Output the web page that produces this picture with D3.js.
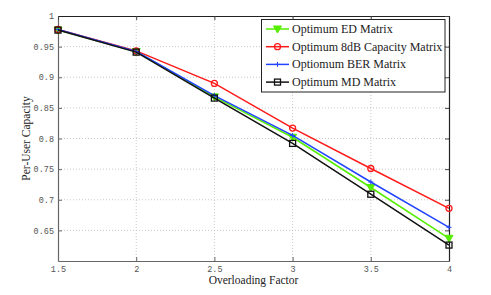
<!DOCTYPE html>
<html><head><meta charset="utf-8">
<script src="https://cdn.jsdelivr.net/npm/d3@7"></script>
<style>
body{margin:0;background:#fff}
.serif{font-family:"Liberation Serif","Times New Roman",serif}
.mono{font-family:"Liberation Mono","Courier New",monospace}
</style>
</head><body>
<script>
const xValues = [1.5, 2, 2.5, 3, 3.5, 4];
const seriesNames = ["Optimum ED Matrix", "Optimum 8dB Capacity Matrix", "Optiomum BER Matrix", "Optimum MD Matrix"];
const edValues = [0.977, 0.942, 0.868, 0.802, 0.720, 0.637];
const capValues = [0.978, 0.943, 0.890, 0.817, 0.751, 0.686];
const berValues = [0.978, 0.942, 0.870, 0.805, 0.729, 0.655];
const mdValues = [0.977, 0.941, 0.866, 0.792, 0.709, 0.626];
const xTicks = [1.5, 2, 2.5, 3, 3.5, 4];
const yTicks = [0.65, 0.7, 0.75, 0.8, 0.85, 0.9, 0.95, 1];
const colors = ["#55ee00", "#ff1a1a", "#2244ff", "#111111"];
const markers = ["tri", "circle", "plus", "square"];

const W = 491, H = 295;
const m = {l: 58, r: 42, t: 16, b: 34};
const svg = d3.select("body").append("svg").attr("width", W).attr("height", H);
const x = d3.scaleLinear().domain([1.5, 4]).range([m.l, W - m.r]);
const y = d3.scaleLinear().domain([0.6, 1]).range([H - m.b, m.t]);
const x0 = x.range()[0], x1 = x.range()[1], y0 = y.range()[0], y1 = y.range()[1];

// grid
const g = svg.append("g");
g.selectAll(".gx").data(xTicks.slice(1, -1)).join("line")
  .attr("x1", d => x(d)).attr("x2", d => x(d)).attr("y1", y0).attr("y2", y1)
  .attr("stroke", "#bbb").attr("stroke-width", 0.8).attr("stroke-dasharray", "1,2");
g.selectAll(".gy").data(yTicks.slice(0, -1)).join("line")
  .attr("x1", x0).attr("x2", x1).attr("y1", d => y(d)).attr("y2", d => y(d))
  .attr("stroke", "#bbb").attr("stroke-width", 0.8).attr("stroke-dasharray", "1,2");

// axes with inward ticks
const fmt = d => String(d);
const bx = svg.append("g").attr("transform", `translate(0,${y0})`)
  .call(d3.axisBottom(x).tickValues(xTicks).tickFormat(fmt).tickSizeInner(-4).tickSizeOuter(0).tickPadding(4.5));
const ly = svg.append("g").attr("transform", `translate(${x0},0)`)
  .call(d3.axisLeft(y).tickValues(yTicks).tickFormat(fmt).tickSizeInner(-4).tickSizeOuter(0).tickPadding(4));
const tx = svg.append("g").attr("transform", `translate(0,${y1})`)
  .call(d3.axisTop(x).tickValues(xTicks).tickFormat("").tickSizeInner(-4).tickSizeOuter(0));
const ry = svg.append("g").attr("transform", `translate(${x1},0)`)
  .call(d3.axisRight(y).tickValues(yTicks).tickFormat("").tickSizeInner(-4).tickSizeOuter(0));
[bx, ly].forEach(a => {
  a.attr("font-family", null);
  a.select(".domain").attr("stroke", "#666").attr("stroke-width", 1.2);
  a.selectAll(".tick line").attr("stroke", "#666");
  a.selectAll("text").attr("class", "mono").attr("font-size", 8.5).attr("fill", "#555");
});
[tx, ry].forEach(a => {
  a.select(".domain").attr("stroke", "#222").attr("stroke-width", 1.2);
  a.selectAll(".tick line").attr("stroke", "#444");
});

// series
const allSeries = [edValues, capValues, berValues, mdValues];
const line = d3.line().x((d, i) => x(xValues[i])).y(d => y(d));
function drawMarker(sel, type, color, px, py) {
  if (type === "tri") {
    sel.append("path").attr("d", `M${px-4},${py-3} L${px+4},${py-3} L${px},${py+4} Z`)
      .attr("fill", color).attr("stroke", color).attr("stroke-width", 1);
  } else if (type === "circle") {
    sel.append("circle").attr("cx", px).attr("cy", py).attr("r", 3)
      .attr("fill", "none").attr("stroke", color).attr("stroke-width", 1.3);
  } else if (type === "plus") {
    sel.append("path").attr("d", `M${px-2.5},${py} H${px+2.5} M${px},${py-2.5} V${py+2.5}`)
      .attr("stroke", color).attr("stroke-width", 1);
  } else {
    sel.append("rect").attr("x", px - 3).attr("y", py - 3).attr("width", 6).attr("height", 6)
      .attr("fill", "none").attr("stroke", color).attr("stroke-width", 1.3);
  }
}
allSeries.forEach((vals, si) => {
  const gs = svg.append("g");
  gs.append("path").datum(vals).attr("d", line).attr("fill", "none")
    .attr("stroke", colors[si]).attr("stroke-width", 1.5);
  vals.forEach((v, i) => drawMarker(gs, markers[si], colors[si], x(xValues[i]), y(v)));
});

// labels
svg.append("text").attr("class", "serif").attr("x", (x0 + x1) / 2).attr("y", 284).attr("text-anchor", "middle")
  .attr("font-size", 11.5).attr("fill", "#222").text("Overloading Factor");
svg.append("text").attr("class", "serif").attr("transform", `translate(30,${(y0 + y1) / 2}) rotate(-90)`).attr("text-anchor", "middle")
  .attr("font-size", 11.5).attr("fill", "#222").text("Per-User Capacity");

// legend
const lg = svg.append("g");
lg.append("rect").attr("x", 261.5).attr("y", 19.5).attr("width", 183.5).attr("height", 72.5)
  .attr("fill", "#fff").attr("stroke", "#222").attr("stroke-width", 1);
seriesNames.forEach((name, i) => {
  const ly_ = 29 + i * 17.7;
  lg.append("line").attr("x1", 266).attr("x2", 289).attr("y1", ly_).attr("y2", ly_)
    .attr("stroke", colors[i]).attr("stroke-width", 1.5);
  drawMarker(lg, markers[i], colors[i], 277.5, ly_);
  lg.append("text").attr("class", "serif").attr("x", 292).attr("y", ly_ + 4)
    .attr("font-size", 12).attr("fill", "#222").text(name);
});
</script>
</body></html>
